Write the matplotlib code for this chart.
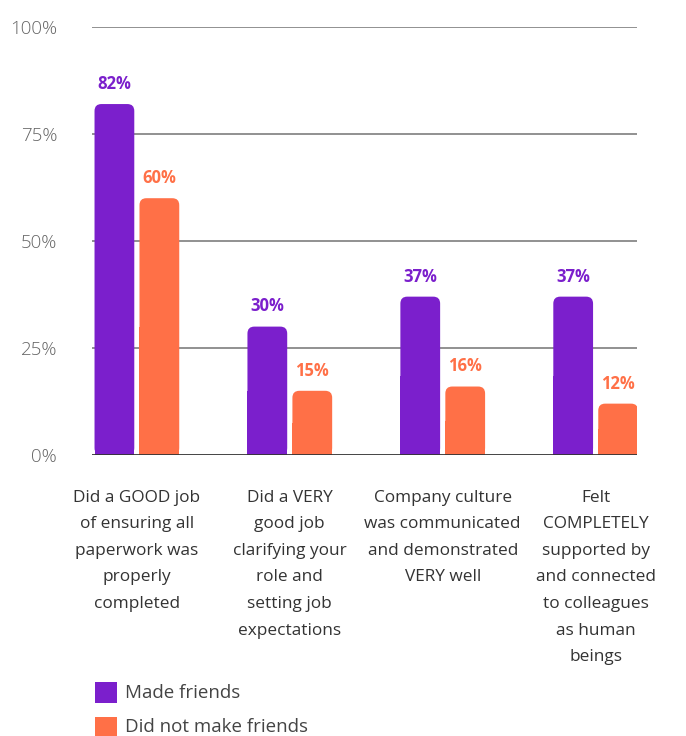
import matplotlib.pyplot as plt
import matplotlib.patches as patches
import numpy as np

plt.rcParams['font.family'] = ['Open Sans', 'DejaVu Sans']

categories = [
    "Did a GOOD job\nof ensuring all\npaperwork was\nproperly\ncompleted",
    "Did a VERY\ngood job\nclarifying your\nrole and\nsetting job\nexpectations",
    "Company culture\nwas communicated\nand demonstrated\nVERY well",
    "Felt\nCOMPLETELY\nsupported by\nand connected\nto colleagues\nas human\nbeings",
]
made_friends = [82, 30, 37, 37]
no_friends = [60, 15, 16, 12]
series_names = ["Made friends", "Did not make friends"]
yticks = [0, 25, 50, 75, 100]

purple = "#7b1fcc"
orange = "#ff7047"

fig = plt.figure(figsize=(6.86, 7.36), dpi=100)
ax = fig.add_axes([0.134, 0.3818, 0.7945, 0.5815])

x = np.arange(len(categories))
w = 0.26
off = 0.147

ax.set_xlim(-0.294, 3.27)
ax.set_ylim(0, 100)

# gridlines behind the bars
for t in yticks[1:]:
    ax.axhline(t, color="#888888", lw=1.3, zorder=1)
ax.axhline(0, color="#333333", lw=2, zorder=4)


def rounded_bar(xc, h, color):
    # rounded top corners; the lower half is squared off with a plain bar
    r = 0.045
    box = patches.FancyBboxPatch((xc - w / 2, 0), w, h,
                                 boxstyle="round,pad=0,rounding_size=%g" % r,
                                 mutation_aspect=36, fc=color, ec="none", zorder=2)
    ax.add_patch(box)
    ax.bar(xc, h / 2, width=w, color=color, zorder=2)


for i in range(len(categories)):
    rounded_bar(x[i] - off, made_friends[i], purple)
    rounded_bar(x[i] + off, no_friends[i], orange)
    ax.text(x[i] - off, made_friends[i] + 2.6, "%d%%" % made_friends[i],
            ha="center", va="bottom", color=purple, fontsize=12, fontweight="bold")
    ax.text(x[i] + off, no_friends[i] + 2.6, "%d%%" % no_friends[i],
            ha="center", va="bottom", color=orange, fontsize=12, fontweight="bold")

for s in ax.spines.values():
    s.set_visible(False)

ax.set_yticks(yticks)
ax.set_yticklabels(["%d%%" % t for t in yticks], color="#666666", fontsize=13.5,
                   fontweight="light")
ax.tick_params(axis="y", length=0, pad=25)
for lbl in ax.get_yticklabels():
    lbl.set_horizontalalignment("right")

ax.set_xticks(x)
ax.set_xticklabels(categories, color="#333333", fontsize=12.4, linespacing=1.88,
                   va="top")
ax.tick_params(axis="x", length=0, pad=25)

# legend drawn by hand under the category labels
for k, (name, col) in enumerate(zip(series_names, [purple, orange])):
    ytop = 682 + k * 35
    fig.patches.append(patches.Rectangle((95 / 686, 1 - (ytop + 21) / 736), 22 / 686, 21 / 736,
                                         transform=fig.transFigure, fc=col, ec="none"))
    fig.text(125 / 686, 1 - (ytop + 10.5) / 736, name, ha="left", va="center",
             color="#444444", fontsize=13.5)

fig.savefig("out.png", dpi=100, facecolor="white")
